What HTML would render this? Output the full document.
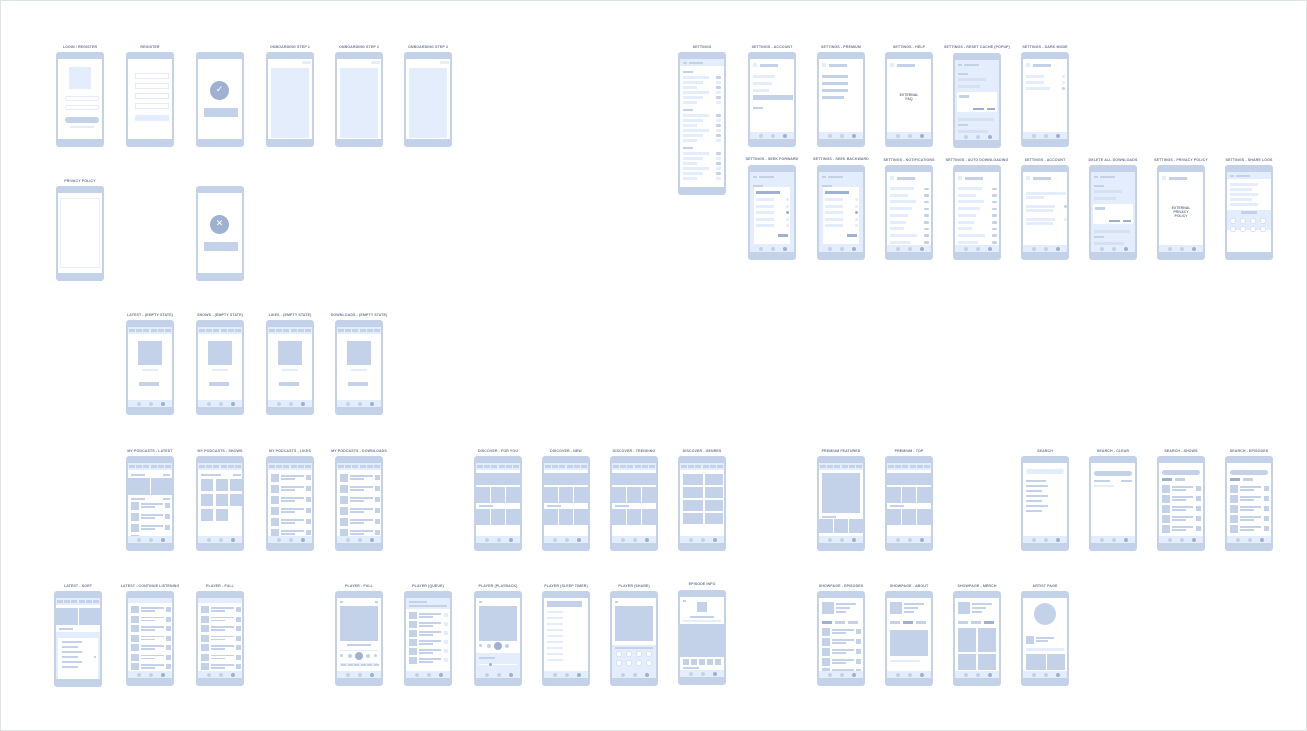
<!DOCTYPE html>
<html><head><meta charset="utf-8"><style>
body{margin:0;background:#fff;}
#c{position:relative;width:1305px;height:729px;border:1px solid #dde4e4;overflow:hidden;font-family:"Liberation Sans",sans-serif;}
.l{position:absolute;font-size:3.6px;color:#6b7a94;font-weight:bold;text-align:center;width:90px;white-space:nowrap;letter-spacing:0.1px}
.p{position:absolute;width:48px;height:95px;background:#c4d2e9;border-radius:3px}
.p .s{position:absolute;left:2px;right:2px;top:7px;bottom:8px;background:#fff;overflow:hidden}
.p i{position:absolute;display:block}
.t{position:absolute;font-size:3.5px;font-weight:bold;color:#6b7a94;text-align:center;width:44px;line-height:4px}
</style></head><body><div id="c">
<!-- labels -->
<div class="l" style="left:34px;top:44px">LOGIN / REGISTER</div>
<div class="l" style="left:104px;top:44px">REGISTER</div>
<div class="l" style="left:244px;top:44px">ONBOARDING STEP 1</div>
<div class="l" style="left:313px;top:44px">ONBOARDING STEP 2</div>
<div class="l" style="left:382px;top:44px">ONBOARDING STEP 3</div>
<div class="l" style="left:34px;top:178px">PRIVACY POLICY</div>
<div class="l" style="left:656px;top:44px">SETTINGS</div>
<div class="l" style="left:726px;top:44px">SETTINGS - ACCOUNT</div>
<div class="l" style="left:795px;top:44px">SETTINGS - PREMIUM</div>
<div class="l" style="left:863px;top:44px">SETTINGS - HELP</div>
<div class="l" style="left:931px;top:44px">SETTINGS - RESET CACHE (POPUP)</div>
<div class="l" style="left:999px;top:44px">SETTINGS - DARK MODE</div>
<div class="l" style="left:726px;top:156px">SETTINGS - SEEK FORWARD</div>
<div class="l" style="left:795px;top:156px">SETTINGS - SEEK BACKWARD</div>
<div class="l" style="left:863px;top:157px">SETTINGS - NOTIFICATIONS</div>
<div class="l" style="left:931px;top:157px">SETTINGS - AUTO DOWNLOADING</div>
<div class="l" style="left:999px;top:157px">SETTINGS - ACCOUNT</div>
<div class="l" style="left:1067px;top:157px">DELETE ALL DOWNLOADS</div>
<div class="l" style="left:1135px;top:157px">SETTINGS - PRIVACY POLICY</div>
<div class="l" style="left:1203px;top:157px">SETTINGS - SHARE LOGS</div>
<div class="l" style="left:104px;top:312px">LATEST - (EMPTY STATE)</div>
<div class="l" style="left:174px;top:312px">SHOWS - (EMPTY STATE)</div>
<div class="l" style="left:244px;top:312px">LIKES - (EMPTY STATE)</div>
<div class="l" style="left:313px;top:312px">DOWNLOADS - (EMPTY STATE)</div>
<div class="l" style="left:104px;top:448px">MY PODCASTS - LATEST</div>
<div class="l" style="left:174px;top:448px">MY PODCASTS - SHOWS</div>
<div class="l" style="left:244px;top:448px">MY PODCASTS - LIKES</div>
<div class="l" style="left:313px;top:448px">MY PODCASTS - DOWNLOADS</div>
<div class="l" style="left:452px;top:448px">DISCOVER - FOR YOU</div>
<div class="l" style="left:520px;top:448px">DISCOVER - NEW</div>
<div class="l" style="left:588px;top:448px">DISCOVER - TRENDING</div>
<div class="l" style="left:656px;top:448px">DISCOVER - GENRES</div>
<div class="l" style="left:795px;top:448px">PREMIUM FEATURED</div>
<div class="l" style="left:863px;top:448px">PREMIUM - TOP</div>
<div class="l" style="left:999px;top:448px">SEARCH</div>
<div class="l" style="left:1067px;top:448px">SEARCH - CLEAR</div>
<div class="l" style="left:1135px;top:448px">SEARCH - SHOWS</div>
<div class="l" style="left:1203px;top:448px">SEARCH - EPISODES</div>
<div class="l" style="left:32px;top:583px">LATEST - SORT</div>
<div class="l" style="left:104px;top:583px">LATEST - CONTINUE LISTENING</div>
<div class="l" style="left:174px;top:583px">PLAYER - FULL</div>
<div class="l" style="left:313px;top:583px">PLAYER - FULL</div>
<div class="l" style="left:382px;top:583px">PLAYER (QUEUE)</div>
<div class="l" style="left:452px;top:583px">PLAYER (PLAYBACK)</div>
<div class="l" style="left:520px;top:583px">PLAYER (SLEEP TIMER)</div>
<div class="l" style="left:588px;top:583px">PLAYER (SHARE)</div>
<div class="l" style="left:656px;top:581px">EPISODE INFO</div>
<div class="l" style="left:795px;top:583px">SHOWPAGE - EPISODES</div>
<div class="l" style="left:863px;top:583px">SHOWPAGE - ABOUT</div>
<div class="l" style="left:931px;top:583px">SHOWPAGE - MERCH</div>
<div class="l" style="left:999px;top:583px">ARTIST PAGE</div>

<!-- phones -->
<div class="p" data-t="login" style="left:55px;top:51px"></div>
<div class="p" data-t="register" style="left:125px;top:51px"></div>
<div class="p" data-t="check" style="left:195px;top:51px"></div>
<div class="p" data-t="onboard" style="left:265px;top:51px"></div>
<div class="p" data-t="onboard" style="left:334px;top:51px"></div>
<div class="p" data-t="onboard" style="left:403px;top:51px"></div>
<div class="p" data-t="privacy" style="left:55px;top:185px"></div>
<div class="p" data-t="x" style="left:195px;top:185px"></div>

<div class="p" data-t="settings" style="left:677px;top:51px;height:143px"></div>
<div class="p" data-t="account" style="left:747px;top:51px"></div>
<div class="p" data-t="premium" style="left:816px;top:51px"></div>
<div class="p" data-t="help" style="left:884px;top:51px"><div class="s"></div><div class="t" style="left:2px;top:41px">EXTERNAL<br>FAQ</div></div>
<div class="p" data-t="popup" style="left:952px;top:52px"></div>
<div class="p" data-t="dark" style="left:1020px;top:51px"></div>
<div class="p" data-t="radio" style="left:747px;top:164px"></div>
<div class="p" data-t="radio" style="left:816px;top:164px"></div>
<div class="p" data-t="toggles" style="left:884px;top:164px"></div>
<div class="p" data-t="toggles" style="left:952px;top:164px"></div>
<div class="p" data-t="account2" style="left:1020px;top:164px"></div>
<div class="p" data-t="popup" style="left:1088px;top:164px"></div>
<div class="p" data-t="help" style="left:1156px;top:164px"><div class="s"></div><div class="t" style="left:2px;top:41px">EXTERNAL<br>PRIVACY<br>POLICY</div></div>
<div class="p" data-t="share" style="left:1224px;top:164px"></div>

<div class="p" data-t="empty" style="left:125px;top:319px"></div>
<div class="p" data-t="empty" style="left:195px;top:319px"></div>
<div class="p" data-t="empty" style="left:265px;top:319px"></div>
<div class="p" data-t="empty" style="left:334px;top:319px"></div>

<div class="p" data-t="latest" style="left:125px;top:455px"></div>
<div class="p" data-t="grid" style="left:195px;top:455px"></div>
<div class="p" data-t="list" style="left:265px;top:455px"></div>
<div class="p" data-t="list" style="left:334px;top:455px"></div>
<div class="p" data-t="discover" style="left:473px;top:455px"></div>
<div class="p" data-t="discover" style="left:541px;top:455px"></div>
<div class="p" data-t="discover" style="left:609px;top:455px"></div>
<div class="p" data-t="genres" style="left:677px;top:455px"></div>
<div class="p" data-t="featured" style="left:816px;top:455px"></div>
<div class="p" data-t="discover" style="left:884px;top:455px"></div>
<div class="p" data-t="search" style="left:1020px;top:455px"></div>
<div class="p" data-t="search2" style="left:1088px;top:455px"></div>
<div class="p" data-t="searchlist" style="left:1156px;top:455px"></div>
<div class="p" data-t="searchlist" style="left:1224px;top:455px"></div>

<div class="p" data-t="sort" style="left:53px;top:590px;height:96px"></div>
<div class="p" data-t="list2" style="left:125px;top:590px"></div>
<div class="p" data-t="list2" style="left:195px;top:590px"></div>
<div class="p" data-t="player" style="left:334px;top:590px"></div>
<div class="p" data-t="queue" style="left:403px;top:590px"></div>
<div class="p" data-t="playback" style="left:473px;top:590px"></div>
<div class="p" data-t="sleep" style="left:541px;top:590px"></div>
<div class="p" data-t="sharep" style="left:609px;top:590px"></div>
<div class="p" data-t="epinfo" style="left:677px;top:589px"></div>
<div class="p" data-t="showpage" style="left:816px;top:590px"></div>
<div class="p" data-t="about" style="left:884px;top:590px"></div>
<div class="p" data-t="merch" style="left:952px;top:590px"></div>
<div class="p" data-t="artist" style="left:1020px;top:590px"></div>
</div>
<script>
var L='#e4edfb',M='#c4d2e9',D='#9fb1d1',W='#fff';
function r(s,x,y,w,h,c,rad,b){var i=document.createElement('i');i.style.cssText='left:'+x+'px;top:'+y+'px;width:'+w+'px;height:'+h+'px;background:'+c+';border-radius:'+(rad||0)+'px;'+(b?'box-shadow:inset 0 0 0 0.6px '+b:'');s.appendChild(i);}
function nav(s,H){r(s,0,H-7,44,7,L);for(var k=0;k<3;k++)r(s,9+k*12,H-5.5,4,4,k==2?D:M,2);}
function tabs(s){r(s,0,0,44,7,L);for(var k=0;k<6;k++)r(s,1+k*7.2,2,6,3,M);}
function hdr(s){r(s,3,4,4,4,L);r(s,10,4.5,18,3,M);}
document.querySelectorAll('.p').forEach(function(p){
 var s=p.querySelector('.s');if(!s){s=document.createElement('div');s.className='s';p.appendChild(s);}
 var t=p.dataset.t,H=p.offsetHeight-15,k;
 switch(t){
 case'login':r(s,11,8,22,22,L);r(s,7,37,34,5,W,3,'#d6e0f0');r(s,7,46,34,5,W,3,'#d6e0f0');r(s,7,58,34,6,M,3);r(s,12,67,24,2,L);break;
 case'register':for(k=0;k<4;k++)r(s,7,14+k*10,34,6,W,1,'#d6e0f0');r(s,7,56,34,6,L,1);break;
 case'check':case'x':r(s,12,22,19,19,D,10);var g=document.createElement('i');g.style.cssText='left:12px;top:22px;width:19px;height:19px;color:#fff;font:9px/19px "DejaVu Sans",sans-serif;text-align:center';g.textContent=t=='check'?'✓':'✕';s.appendChild(g);r(s,6,49,34,9,M);break;
 case'onboard':r(s,34,2,9,3,L,2);r(s,3,9,38,70,L);break;
 case'privacy':r(s,2,5,40,70,W,0,'#dfe7f5');break;
 case'settings':r(s,0,0,44,7,L);r(s,3,3,4,1.5,M);r(s,9,3,14,1.5,M);
  var y=12;for(var g2=0;g2<3;g2++){r(s,3,y,10,1.5,M);y+=5;for(k=0;k<6;k++){r(s,3,y,26-(k%3)*6,3,L);r(s,36,y,5,2.5,k%2?L:M,1);y+=5;}y+=3;}break;
 case'account':case'premium':hdr(s);for(k=0;k<3;k++)r(s,t=='premium'?3:3,16+k*7,t=='premium'?26:22-k*3,3,t=='premium'?M:L);if(t=='account'){r(s,3,36,40,5,M);r(s,3,48,10,2,M);}else r(s,3,37,22,3,M);nav(s,H);break;
 case'help':hdr(s);nav(s,H);break;
 case'popup':s.style.background=L;r(s,3,4,4,2,M);r(s,9,4,15,2,M);r(s,3,13,10,2,M);r(s,3,18,28,3,'#d6e0f0');r(s,3,25,22,3,'#d6e0f0');r(s,2,32,40,20,W);r(s,4,35,10,3,M);r(s,18,48,11,2,D);r(s,32,48,8,2,D);r(s,3,58,36,3,'#d6e0f0');r(s,3,64,10,2,M);r(s,3,70,30,3,'#d6e0f0');nav(s,H);break;
 case'dark':hdr(s);for(k=0;k<3;k++){r(s,3,16+k*6,k==2?24:18,3,L);r(s,39,16+k*6,3,3,k==2?M:L,2);}nav(s,H);break;
 case'radio':s.style.background=L;r(s,3,4,4,2,M);r(s,9,4,15,2,M);r(s,3,13,10,2,M);r(s,4,15,36,57,W);r(s,6,19,24,3,D);for(k=0;k<5;k++){r(s,6,26+k*6.5,18,3,L);r(s,36,26+k*6.5,3,3,k==2?D:L,2);}r(s,28,62,10,3,D);nav(s,H);break;
 case'toggles':hdr(s);for(k=0;k<9;k++){r(s,3,15+k*6.7,[24,18,26,22,18,16,14,27,20][k],3,L);r(s,37,15.5+k*6.7,5,2.5,M,1);}nav(s,H);break;
 case'account2':hdr(s);r(s,3,20,40,3,L);r(s,3,24,18,3,L);r(s,3,33,29,3,L);r(s,3,37,27,3,L);r(s,41,33,3,3,M,2);r(s,3,46,29,3,L);r(s,3,50,27,3,L);r(s,41,46,3,3,L,2);nav(s,H);break;
 case'share':r(s,0,0,44,7,L);r(s,3,3,4,1.5,M);r(s,9,3,14,1.5,M);for(k=0;k<5;k++)r(s,3,11+k*5,k%2?22:28,2.5,L);r(s,0,38,44,20,L);r(s,14,39,16,2.5,M);for(k=0;k<8;k++)r(s,3+(k%4)*10,46+Math.floor(k/4)*8,6,6,W,3,M);break;
 case'empty':tabs(s);r(s,10,14,24,24,M);r(s,14,42,16,1.5,L);r(s,11,55,20,4,M);nav(s,H);break;
 case'latest':tabs(s);r(s,3,11,14,2,M);r(s,35,11,7,2,M);r(s,0,15,22,17,M);r(s,23,15,21,17,M);r(s,3,35,14,2,M);r(s,35,35,7,2,M);for(k=0;k<4;k++){r(s,3,39+k*11,8,8,M);r(s,13,40+k*11,22,1.5,M);r(s,13,43+k*11,14,1.5,M);r(s,37,40+k*11,5,5,M);}nav(s,H);break;
 case'grid':tabs(s);r(s,3,11,20,2,M);r(s,35,11,8,2,M);for(k=0;k<8;k++)r(s,3+(k%3)*14.5,16+Math.floor(k/3)*15,12,12,M);nav(s,H);break;
 case'list':tabs(s);for(k=0;k<6;k++){r(s,3,11+k*11,8,8,M);r(s,13,12+k*11,23,1.5,M);r(s,13,15+k*11,14,1.5,M);r(s,38,12+k*11,5,5,M);}nav(s,H);break;
 case'discover':case'genres':tabs(s);if(t=='genres'){for(k=0;k<4;k++){r(s,3,11+k*13,20,11,M);r(s,25,11+k*13,18,11,M);}}else{r(s,0,10,44,12,M);r(s,0,24,14,16,M);r(s,15,24,14,16,M);r(s,30,24,14,16,M);r(s,3,42,14,2,M);r(s,0,46,14,16,M);r(s,15,46,14,16,M);r(s,30,46,14,16,M);}nav(s,H);break;
 case'featured':tabs(s);r(s,3,10,38,40,M);r(s,3,53,14,2,M);r(s,0,56,14,14,M);r(s,15,56,14,14,M);r(s,30,56,14,14,M);nav(s,H);break;
 case'search':r(s,3,6,38,5,L,3);r(s,3,17,20,2,M);for(k=0;k<6;k++)r(s,3,22+k*5,k%2?16:22,2,M);nav(s,H);break;
 case'search2':r(s,3,8,38,5,M,3);r(s,3,17,16,2,M);r(s,30,17,11,2,M);r(s,3,22,20,1.5,L);nav(s,H);break;
 case'searchlist':r(s,3,7,38,5,M,3);r(s,3,15,10,3,D);r(s,16,15,10,3,M);for(k=0;k<5;k++){r(s,3,22+k*10,8,8,M);r(s,13,23+k*10,21,1.5,M);r(s,13,26+k*10,14,1.5,M);r(s,37,23+k*10,5,5,M);}nav(s,H);break;
 case'sort':tabs(s);r(s,0,10,22,17,M);r(s,23,10,21,17,M);r(s,3,30,14,2,M);r(s,0,34,44,48,L);r(s,2,40,40,42,W);for(k=0;k<6;k++){r(s,6,43+k*5,k%2?16:20,2,M);}r(s,38,58,2,2,M);break;
 case'list2':r(s,0,0,44,5,L);for(k=0;k<7;k++){r(s,3,8+k*9.5,8,7,M);r(s,13,9+k*9.5,23,1.5,M);r(s,13,12+k*9.5,14,1.5,M);r(s,38,9+k*9.5,5,5,M);}nav(s,H);break;
 case'player':r(s,3,3,3,2,M);r(s,38,3,3,2,M);r(s,3,8,38,35,M);r(s,10,46,24,2,M);r(s,3,52,38,1,L);r(s,3,56,3,3,M,2);r(s,11,56,4,4,M,2);r(s,18,54,8,8,D,4);r(s,29,56,4,4,M,2);r(s,37,56,3,3,M,2);r(s,3,65,38,3,L);for(k=0;k<6;k++)r(s,4+k*6.5,65.5,5,2,M);nav(s,H);break;
 case'queue':r(s,0,0,44,11,L);r(s,3,3,18,2,M);r(s,3,7,38,2,M);for(k=0;k<6;k++){r(s,3,14+k*9,8,7,M);r(s,13,15+k*9,22,1.5,M);r(s,13,18+k*9,14,1.5,M);r(s,38,15+k*9,4,4,L);}nav(s,H);break;
 case'playback':r(s,3,3,3,2,M);r(s,3,8,38,35,M);r(s,3,46,3,3,M,2);r(s,11,46,4,4,M,2);r(s,18,44,8,8,D,4);r(s,29,46,4,4,M,2);r(s,0,55,44,25,L);r(s,3,59,16,2,M);r(s,3,66,38,1,W);r(s,13,65,3,3,D,2);nav(s,H);break;
 case'sleep':r(s,3,3,35,6,M);for(k=0;k<9;k++)r(s,3,13+k*6,16,2,L);nav(s,H);break;
 case'sharep':r(s,3,3,3,2,M);r(s,3,8,38,35,M);r(s,0,47,44,33,L);r(s,3,49,38,2,M);for(k=0;k<8;k++)r(s,4+(k%4)*10,53+Math.floor(k/4)*9,6,6,W,3,M);nav(s,H);break;
 case'epinfo':r(s,3,3,3,2,M);r(s,17,5,10,10,M);r(s,10,19,24,2,M);r(s,3,23,38,1.5,L);r(s,0,27,44,33,M);for(k=0;k<5;k++)r(s,3+k*8,62,6,6,M);r(s,3,70,16,2,M);nav(s,H);break;
 case'showpage':r(s,3,4,12,12,M);r(s,17,5,20,2,M);r(s,17,9,14,2,M);r(s,17,13,10,1.5,M);r(s,3,23,10,3,D);r(s,16,23,10,3,M);r(s,29,23,10,3,M);for(k=0;k<5;k++){r(s,3,30+k*10,8,8,M);r(s,13,31+k*10,22,1.5,M);r(s,13,34+k*10,14,1.5,M);r(s,37,31+k*10,5,5,M);}nav(s,H);break;
 case'about':r(s,3,4,12,12,M);r(s,17,5,20,2,M);r(s,17,9,14,2,M);r(s,17,13,10,1.5,M);r(s,3,23,10,3,M);r(s,16,23,10,3,D);r(s,29,23,10,3,M);r(s,3,32,38,26,M);r(s,3,62,30,2,L);nav(s,H);break;
 case'merch':r(s,3,4,12,12,M);r(s,17,5,20,2,M);r(s,17,9,14,2,M);r(s,17,13,10,1.5,M);r(s,3,23,10,3,M);r(s,16,23,10,3,M);r(s,29,23,10,3,D);r(s,3,30,18,24,M);r(s,23,30,18,24,M);r(s,3,56,18,16,M);r(s,23,56,18,16,M);nav(s,H);break;
 case'artist':r(s,11,5,22,22,M,11);r(s,3,38,8,8,M);r(s,13,39,18,1.5,M);r(s,13,42,12,1.5,M);r(s,3,50,38,3,L);r(s,3,56,20,16,M);r(s,24,56,18,16,M);nav(s,H);break;
 }
});
</script>
</body></html>
